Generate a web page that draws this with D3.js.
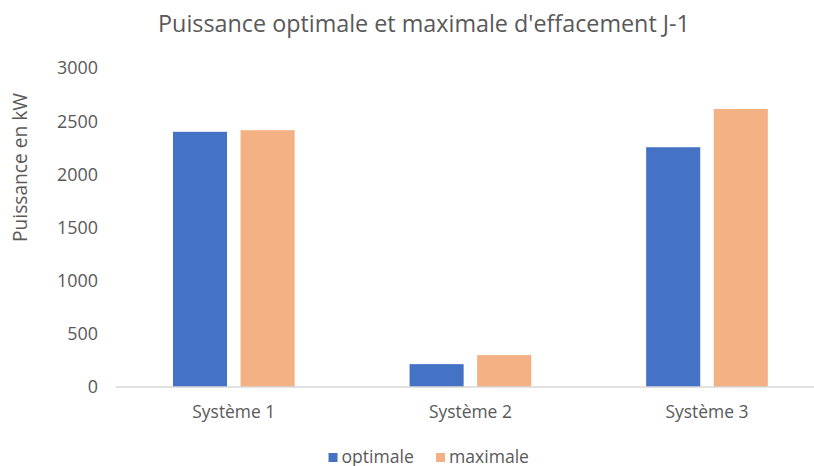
<!DOCTYPE html>
<html><head><meta charset="utf-8">
<script src="https://cdn.jsdelivr.net/npm/d3@7"></script>
<style>
body{margin:0;background:#fff;}
text{font-family:"Open Sans",sans-serif;fill:#595959;}
</style></head>
<body><svg id="c" width="814" height="466"></svg>
<script>
const categories = ["Système 1", "Système 2", "Système 3"];
const seriesNames = ["optimale", "maximale"];
const optimale = [2400, 215, 2255];
const maximale = [2415, 300, 2615];
const yTicks = [0, 500, 1000, 1500, 2000, 2500, 3000];
const colors = ["#4472C4", "#F4B183"];

const svg = d3.select("#c");
const data = categories.map((c, i) => ({cat: c, values: [optimale[i], maximale[i]]}));

// size font so a text node spans the target width
function fit(sel, w) {
  sel.style("font-size", "100px");
  const l = sel.node().getComputedTextLength();
  sel.style("font-size", (100 * w / l).toFixed(2) + "px");
  return sel;
}

const x0 = d3.scaleBand().domain(categories).range([115.5, 825.3]).padding(0);
const x1 = d3.scaleBand().domain(seriesNames).range([0, x0.bandwidth()]).paddingInner(0.2).paddingOuter(0.85);
const y = d3.scaleLinear().domain([0, 3000]).range([387, 68]);

fit(svg.append("text").attr("x", 424).attr("y", 32).attr("text-anchor", "middle")
  .text("Puissance optimale et maximale d'effacement J-1"), 532);

fit(svg.append("text").attr("transform", "translate(27,167.5) rotate(-90)").attr("text-anchor", "middle")
  .text("Puissance en kW"), 149);

// y tick labels
const ticks = svg.append("g").selectAll("text").data(yTicks).join("text")
  .attr("x", 98).attr("y", d => y(d)).attr("dy", "0.36em").attr("text-anchor", "end").text(d => d);
fit(ticks.filter(d => d === 3000), 41);
ticks.style("font-size", ticks.filter(d => d === 3000).style("font-size"));

// bars
const g = svg.append("g").selectAll("g").data(data).join("g")
  .attr("transform", d => `translate(${x0(d.cat)},0)`);
g.selectAll("rect").data(d => d.values.map((v, i) => ({s: seriesNames[i], v, i}))).join("rect")
  .attr("x", d => x1(d.s)).attr("width", x1.bandwidth())
  .attr("y", d => y(d.v)).attr("height", d => y(0) - y(d.v))
  .attr("fill", d => colors[d.i]);

// x axis line
svg.append("line").attr("x1", x0.range()[0]).attr("x2", x0.range()[1])
  .attr("y1", y(0)).attr("y2", y(0)).attr("stroke", "#D9D9D9").attr("stroke-width", 1.5);

// x labels
const xl = svg.append("g").selectAll("text").data(categories).join("text")
  .attr("x", d => x0(d) + x0.bandwidth() / 2).attr("y", 418)
  .attr("text-anchor", "middle").text(d => d);
fit(xl.filter((d, i) => i === 0), 83);
xl.style("font-size", xl.filter((d, i) => i === 0).style("font-size"));

// legend
const legX = [328.5, 436];
const lg = svg.append("g").selectAll("g").data(seriesNames).join("g")
  .attr("transform", (d, i) => `translate(${legX[i]},453)`);
lg.append("rect").attr("width", 9).attr("height", 9).attr("fill", (d, i) => colors[i]);
const lt = lg.append("text").attr("x", 13).attr("y", 9.5).text(d => d);
fit(lt.filter((d, i) => i === 1), 80);
lt.style("font-size", lt.filter((d, i) => i === 1).style("font-size"));
</script></body></html>
